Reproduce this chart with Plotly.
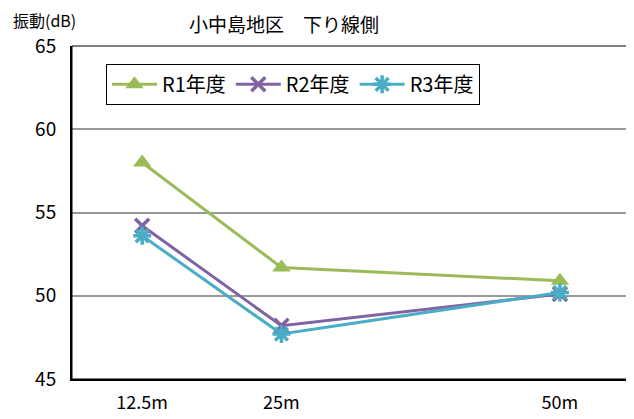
import plotly.graph_objects as go

distances = [12.5, 25, 50]
tick_labels = ["12.5m", "25m", "50m"]
r1 = [58.0, 51.7, 50.9]
r2 = [54.2, 48.2, 50.1]
r3 = [53.6, 47.7, 50.2]

FONT = "Noto Sans CJK JP"
# page has an 8px body margin; figure is sized to compensate
W, H = 626, 411
ML, MR, MT, MB = 64, 5, 38, 36
PW, PH = W - ML - MR, H - MT - MB

def px_x(x):  # figure pixel -> paper x
    return (x - ML) / PW

def px_y(y):  # figure pixel (from top) -> paper y
    return (H - MB - y) / PH

fig = go.Figure()
fig.add_trace(go.Scatter(
    x=distances, y=r1, name="R1年度", mode="lines+markers",
    line=dict(color="#9BBB59", width=3),
    marker=dict(symbol="triangle-up", size=16, color="#9BBB59"),
))
fig.add_trace(go.Scatter(
    x=distances, y=r2, name="R2年度", mode="lines+markers",
    line=dict(color="#8064A2", width=3),
    marker=dict(symbol="x-thin-open", size=14, color="#8064A2",
                line=dict(color="#8064A2", width=3.5)),
))
fig.add_trace(go.Scatter(
    x=distances, y=r3, name="R3年度", mode="lines+markers",
    line=dict(color="#4BACC6", width=3),
    marker=dict(symbol="asterisk-open", size=15, color="#4BACC6",
                line=dict(color="#4BACC6", width=3.5)),
))

fig.update_layout(
    width=W, height=H,
    margin=dict(l=ML, r=MR, t=MT, b=MB),
    paper_bgcolor="white", plot_bgcolor="white",
    font=dict(family=FONT, color="black", size=18),
    showlegend=True,
    legend=dict(orientation="h", x=px_x(98), y=px_y(56), xanchor="left", yanchor="top",
                bordercolor="black", borderwidth=1, bgcolor="white",
                font=dict(size=20, family=FONT), itemwidth=45),
    xaxis=dict(range=[6.2, 56.2], tickvals=distances, ticktext=tick_labels,
               showgrid=False, zeroline=False, showline=True, linecolor="black",
               linewidth=2, ticks="", tickfont=dict(size=18), ticklabelstandoff=6),
    yaxis=dict(range=[45, 65], dtick=5, showgrid=True, gridcolor="#999999",
               gridwidth=1.5, zeroline=False, showline=True, linecolor="black",
               linewidth=2, ticks="", tickfont=dict(size=19), ticklabelstandoff=10),
    shapes=[dict(type="rect", xref="paper", yref="paper", x0=0, x1=1, y0=0, y1=1,
                 line=dict(color="black", width=1), layer="above")],
    annotations=[
        dict(text="小中島地区　下り線側", xref="paper", yref="paper",
             x=px_x(276), y=px_y(15), xanchor="center", yanchor="middle",
             showarrow=False, font=dict(size=19, family=FONT)),
        dict(text="振動(dB)", xref="paper", yref="paper", x=px_x(3), y=px_y(12),
             xanchor="left", yanchor="middle", showarrow=False,
             font=dict(size=16, family=FONT)),
    ],
)

fig.write_html("out.html")
